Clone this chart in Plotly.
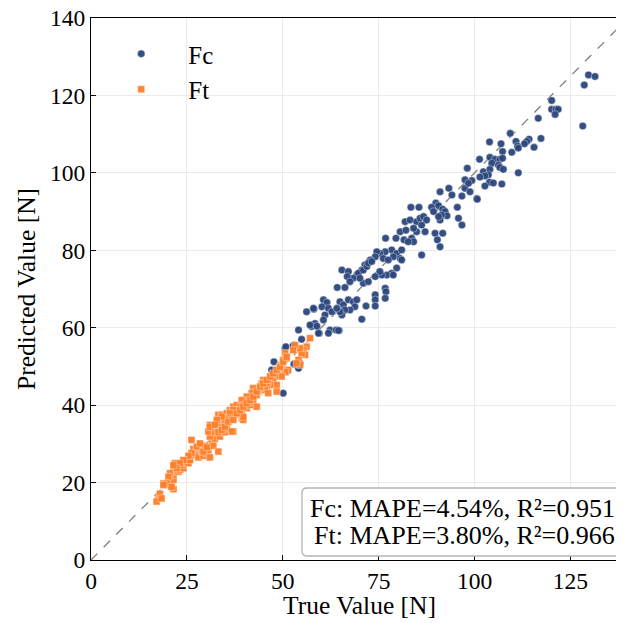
import plotly.graph_objects as go

# ---- Data ----
fc_true = [
    129.7, 131.4, 128.6, 128.2, 120.1, 120.1, 121.2, 121.8, 121.0, 116.6, 109.3, 117.3, 114.2, 113.6, 113.0,
    115.5, 110.8, 111.2, 111.4, 109.7, 103.9, 106.9, 107.3, 104.0, 105.3, 106.6, 107.3, 101.3, 104.5, 106.2,
    106.6, 107.5, 98.1, 102.3, 104.0, 103.6, 102.7, 101.4, 103.9, 104.9, 107.1, 111.4, 99.3, 91.0, 93.3,
    94.1, 96.7, 97.5, 98.8, 100.6, 102.7, 97.5,
    83.4, 85.5, 89.9, 90.6, 91.7, 92.3, 92.8, 91.4, 91.0, 90.6, 88.8, 89.3, 95.5, 95.8, 96.7,
    100.7, 98.4, 81.9, 83.2, 84.9, 85.8, 86.7, 87.5, 86.2, 87.1, 84.9, 84.1, 89.7, 91.7, 90.3,
    91.0, 80.6, 82.1, 83.6, 81.6, 79.5, 76.8, 84.1, 82.7, 78.4, 79.7, 81.0, 80.6, 78.8, 76.7,
    75.3, 76.2, 77.5, 81.0, 79.7, 78.4, 77.1, 75.8, 86.2, 74.5, 74.1, 72.8, 71.4, 70.6, 69.3,
    68.4, 71.0, 72.3, 75.3, 74.1, 78.8, 76.7,
    65.4, 67.1, 64.2, 66.2, 66.8, 67.5, 60.6, 61.5, 60.2, 61.9, 64.9, 65.8, 67.1, 68.4, 69.3,
    68.8, 67.5, 66.2, 65.4, 64.9, 56.2, 58.1, 61.0, 62.8, 64.1, 70.6, 71.7, 74.1, 74.1, 74.1,
    57.5, 58.4, 60.6, 59.5, 62.3, 63.9, 64.7, 54.1, 54.9, 52.8, 50.6, 76.9, 76.7, 69.7, 71.0,
    71.9, 72.3, 73.2, 70.1,
    50.1, 54.1, 52.9, 47.7, 47.1, 51.0, 50.8, 52.7, 54.5, 57.1, 59.3, 61.9, 58.0, 58.9, 64.5,
]
fc_pred = [
    125.3, 124.9, 122.7, 112.1, 118.7, 116.4, 116.4, 116.4, 115.1, 114.1, 110.2, 108.9, 108.7, 108.1, 107.5,
    106.6, 108.1, 106.9, 106.4, 105.3, 108.0, 107.5, 105.5, 104.0, 103.5, 103.5, 103.8, 103.5, 102.5, 102.0,
    101.4, 100.9, 101.2, 100.3, 100.9, 99.5, 99.2, 98.9, 97.6, 97.4, 97.1, 100.0, 98.0, 95.1, 96.0,
    94.3, 94.0, 96.0, 95.1, 93.4, 96.6, 98.2,
    91.1, 91.1, 92.2, 91.5, 90.6, 90.0, 88.9, 89.1, 87.8, 88.7, 91.1, 90.0, 91.1, 88.3, 86.5,
    93.2, 97.3, 87.4, 87.8, 87.4, 88.3, 88.7, 87.8, 86.5, 84.8, 84.8, 85.7, 84.4, 84.4, 82.7,
    80.9, 84.8, 85.2, 83.1, 82.7, 83.1, 83.1, 82.2, 82.2, 80.1, 79.2, 80.1, 77.9, 78.3, 79.6,
    79.2, 77.9, 77.5, 77.5, 75.4, 74.1, 73.6, 73.6, 78.8, 79.6, 78.3, 77.5, 76.2, 74.9, 73.6,
    72.8, 71.5, 71.9, 74.5, 73.2, 73.6, 70.2,
    74.9, 74.5, 70.4, 70.4, 73.2, 71.9, 67.2, 66.5, 65.4, 65.0, 66.7, 65.9, 67.2, 66.7, 67.2,
    65.4, 64.6, 64.6, 63.3, 64.1, 64.1, 64.8, 63.3, 64.1, 65.0, 62.2, 65.6, 68.5, 67.2, 65.6,
    60.3, 61.1, 62.0, 58.6, 59.4, 59.4, 59.3, 59.4, 57.0, 55.5, 54.7, 69.3, 67.6, 74.1, 74.9,
    75.8, 76.7, 77.1, 72.8,
    43.1, 49.5, 50.6, 51.2, 49.1, 48.6, 55.1, 55.3, 50.8, 60.7, 58.6, 58.6, 65.0, 60.4, 59.3,
]

ft_true = [
    17.6, 17.1, 18.0, 18.4, 19.3, 18.9, 19.7, 21.0, 21.5, 20.6, 21.5, 21.5, 21.5, 21.9, 22.8,
    23.2, 24.1, 23.6, 24.5, 25.4, 25.8, 26.2, 27.1, 26.7, 27.6, 28.0, 28.9, 29.3, 28.4, 29.7,
    30.2, 30.6, 31.0, 31.5, 31.9, 32.3, 31.0, 30.6, 31.5, 32.3, 33.2, 33.6, 33.2, 34.9, 35.4,
    34.1, 33.6, 32.8, 31.0, 26.2, 33.2, 34.1, 35.4, 36.2, 37.1, 38.0, 38.9, 39.3, 39.7, 40.6,
    41.5, 42.3, 43.2, 39.3, 37.1, 39.7,
    57.1, 56.2, 55.4, 55.8, 54.9, 54.5, 54.1, 54.5, 53.6, 53.2, 52.7, 50.6, 51.0, 50.1, 49.7,
    51.4, 50.6, 49.3, 48.4, 48.8, 49.7, 48.0, 47.1, 47.5, 48.4, 46.7, 46.2, 45.8, 45.4, 44.9,
    44.5, 44.1, 43.6, 43.2, 42.3, 41.9, 41.5, 40.6, 40.2, 39.3, 39.7, 38.9, 38.4, 37.1, 37.5,
    36.2, 35.8, 34.9, 34.1, 32.8, 48.4, 46.2, 39.7,
    31.0, 32.3, 33.2, 34.1, 34.9, 35.8, 37.1, 38.0, 38.9, 39.7, 40.6, 41.5, 42.3, 43.2, 44.1,
    44.9, 45.8, 46.7, 47.5, 48.4, 49.3, 50.1, 51.0, 27.6, 28.4, 29.3, 30.2, 26.2, 25.4, 24.1,
    23.2, 22.3, 20.6, 20.2, 19.7, 21.0, 18.9, 36.7, 21.5,
]
ft_pred = [
    16.4, 15.1, 17.1, 15.9, 19.4, 19.8, 19.8, 18.9, 18.3, 20.2, 20.7, 22.0, 23.3, 25.0, 22.8,
    23.3, 23.7, 24.5, 25.4, 25.0, 25.8, 27.1, 27.6, 28.7, 29.1, 26.5, 28.0, 26.9, 29.5, 29.5,
    27.6, 28.4, 26.5, 30.1, 29.5, 31.3, 31.9, 33.2, 34.5, 33.0, 33.2, 31.9, 28.0, 33.0, 34.0,
    34.5, 35.3, 35.3, 34.9, 31.0, 37.5, 37.5, 37.9, 38.7, 39.6, 40.0, 38.7, 37.9, 40.5, 39.2,
    40.0, 40.9, 39.6, 36.6, 33.2, 36.2,
    57.3, 55.1, 54.2, 53.0, 53.4, 54.7, 51.7, 50.4, 50.8, 55.5, 54.2, 53.4, 52.1, 51.7, 50.4,
    49.1, 48.6, 49.5, 49.1, 47.8, 47.4, 47.4, 46.9, 46.1, 45.2, 45.2, 46.1, 44.8, 43.9, 46.5,
    45.6, 44.4, 43.5, 42.6, 44.4, 43.1, 41.8, 42.2, 40.9, 41.3, 40.0, 39.6, 38.7, 38.7, 37.5,
    37.9, 36.6, 36.2, 37.0, 36.2, 43.5, 43.1, 37.0,
    34.4, 34.9, 33.0, 33.6, 34.4, 35.7, 36.2, 37.9, 38.7, 39.6, 40.5, 41.3, 42.2, 43.5, 44.8,
    45.6, 46.5, 47.4, 48.2, 49.1, 49.9, 51.2, 52.5, 29.3, 30.1, 28.0, 29.1, 27.6, 26.9, 25.8,
    25.0, 23.7, 22.4, 21.5, 19.8, 18.9, 19.4, 33.2, 24.5,
]

axis_max = [0, 140]
x_ticks = [0, 25, 50, 75, 100, 125]
y_ticks = [0, 20, 40, 60, 80, 100, 120, 140]
metrics_lines = ["Fc: MAPE=4.54%, R²=0.951", "Ft: MAPE=3.80%, R²=0.966"]
x_title = "True Value [N]"
y_title = "Predicted Value [N]"

FONT = "Liberation Serif, Times New Roman, serif"

# figure geometry (px)
W, H = 620, 623
ML, MT, MR = 83, 10, 0
PH = 542
MB = H - MT - PH
PW = W - ML - MR

fig = go.Figure()
fig.add_trace(go.Scatter(
    x=axis_max, y=axis_max, mode="lines", showlegend=False, hoverinfo="skip",
    line=dict(color="#808080", width=1.3, dash="dash"),
))
fig.add_trace(go.Scatter(
    x=fc_true, y=fc_pred, mode="markers", name="Fc",
    marker=dict(symbol="circle", size=7.5, color="#2b467d", opacity=0.95,
                line=dict(color="white", width=0.4)),
))
fig.add_trace(go.Scatter(
    x=ft_true, y=ft_pred, mode="markers", name="Ft",
    marker=dict(symbol="square", size=7, color="#ff7f2a", opacity=0.95,
                line=dict(color="white", width=0.4)),
))

axis_common = dict(
    showgrid=True, gridcolor="#ebebeb", gridwidth=1,
    showline=True, linecolor="black", linewidth=1.3, mirror=True,
    ticks="inside", ticklen=5, tickwidth=1.2, tickcolor="black",
    tickfont=dict(family=FONT, size=23.5, color="black"),
    zeroline=False, automargin=False, ticklabeloverflow="allow",
)

def px_x(p):
    return (p - ML) / PW

def px_y(p):
    return (MT + PH - p) / PH

# rounded box for the metrics text (paper coordinates)
bx0, bx1, by0, by1 = px_x(294), px_x(615), px_y(548), px_y(480)
rx, ry = 5 / PW, 5 / PH
box_path = (
    f"M {bx0+rx},{by0} L {bx1-rx},{by0} Q {bx1},{by0} {bx1},{by0+ry} "
    f"L {bx1},{by1-ry} Q {bx1},{by1} {bx1-rx},{by1} "
    f"L {bx0+rx},{by1} Q {bx0},{by1} {bx0},{by1-ry} "
    f"L {bx0},{by0+ry} Q {bx0},{by0} {bx0+rx},{by0} Z"
)

annotations = [
    dict(text=metrics_lines[0], xref="paper", yref="paper", x=px_x(609), y=px_y(500),
         xanchor="right", yanchor="middle", showarrow=False,
         font=dict(family=FONT, size=26, color="black")),
    dict(text=metrics_lines[1], xref="paper", yref="paper", x=px_x(609), y=px_y(527),
         xanchor="right", yanchor="middle", showarrow=False,
         font=dict(family=FONT, size=26, color="black")),
    dict(text=x_title, xref="paper", yref="paper", x=0.5, y=px_y(597),
         xanchor="center", yanchor="middle", showarrow=False,
         font=dict(family=FONT, size=25.5, color="black")),
    dict(text=y_title, xref="paper", yref="paper", x=px_x(18), y=0.5, textangle=-90,
         xanchor="center", yanchor="middle", showarrow=False,
         font=dict(family=FONT, size=25.5, color="black")),
]

fig.update_layout(
    width=W, height=H,
    margin=dict(l=ML, r=MR, t=MT, b=MB),
    paper_bgcolor="white", plot_bgcolor="white",
    font=dict(family=FONT, color="black"),
    xaxis=dict(range=[0, 140], tickvals=x_ticks, **axis_common),
    yaxis=dict(range=[0, 140], tickvals=y_ticks, **axis_common),
    legend=dict(x=0.006, y=0.976, xanchor="left", yanchor="top",
                bgcolor="rgba(0,0,0,0)", borderwidth=0,
                font=dict(family=FONT, size=25), itemwidth=84, tracegroupgap=6),
    shapes=[dict(type="path", path=box_path, xref="paper", yref="paper",
                 line=dict(color="#b5b5b5", width=1.3),
                 fillcolor="rgba(255,255,255,0.85)", layer="above")],
    annotations=annotations,
)

fig.write_html("out.html")
